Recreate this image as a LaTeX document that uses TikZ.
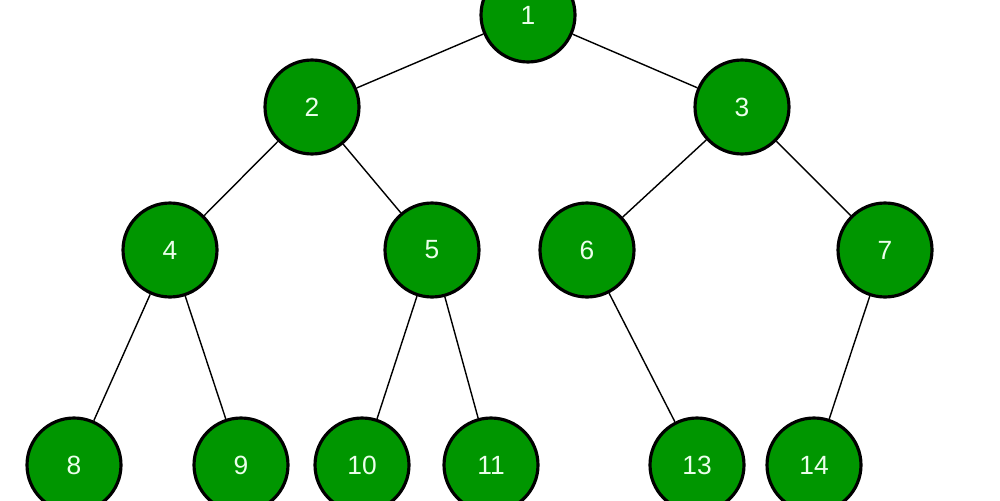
\documentclass[tikz,border=0pt]{standalone}
\usepackage{fontspec}
\setmainfont{Liberation Sans}
\definecolor{ngreen}{RGB}{0,150,0}
\begin{document}
\begin{tikzpicture}[x=0.02cm,y=-0.02cm,
  n/.style={circle,draw=black,line width=1.8pt,fill=ngreen,minimum size=1.88cm,inner sep=0pt,text=white!92!green,font=\fontsize{15}{15}\selectfont},
  e/.style={draw=black,line width=0.8pt}]
\useasboundingbox (0,0) rectangle (1000,500);
\node[n] (n1) at (528,15) {1};
\node[n] (n2) at (312,107) {2};
\node[n] (n3) at (742,107) {3};
\node[n] (n4) at (170,250) {4};
\node[n] (n5) at (432,250) {5};
\node[n] (n6) at (587,250) {6};
\node[n] (n7) at (885,250) {7};
\node[n] (n8) at (74,465) {8};
\node[n] (n9) at (241,465) {9};
\node[n] (n10) at (362,465) {10};
\node[n] (n11) at (491,465) {11};
\node[n] (n13) at (697,465) {13};
\node[n] (n14) at (814,465) {14};
\begin{scope}[on background layer/.style={}]
\end{scope}
\draw[e] (n1)--(n2); \draw[e] (n1)--(n3);
\draw[e] (n2)--(n4); \draw[e] (n2)--(n5);
\draw[e] (n3)--(n6); \draw[e] (n3)--(n7);
\draw[e] (n4)--(n8); \draw[e] (n4)--(n9);
\draw[e] (n5)--(n10); \draw[e] (n5)--(n11);
\draw[e] (n6)--(n13); \draw[e] (n7)--(n14);
\end{tikzpicture}
\end{document}
